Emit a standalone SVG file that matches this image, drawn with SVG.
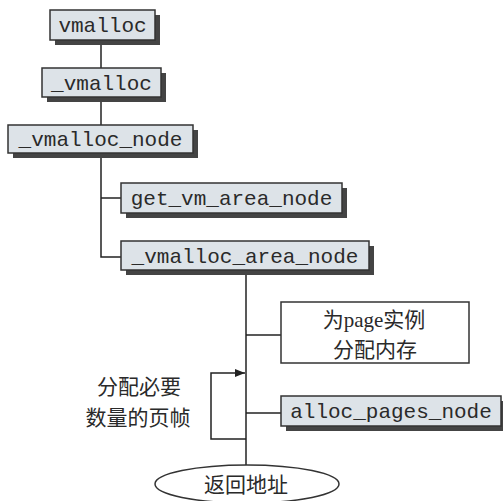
<svg xmlns="http://www.w3.org/2000/svg" width="503" height="501" viewBox="0 0 503 501">
<defs>
<style>
.box{fill:#dde3e8;stroke:#333;stroke-width:1.5}
.sh{fill:#444}
.plain{fill:#fff;stroke:#333;stroke-width:1.5}
.mono{font-family:"Liberation Mono",monospace;font-size:21px;fill:#2a2a2a;text-anchor:middle}
.cjk{font-family:"Liberation Serif","Noto Sans CJK SC",serif;font-size:21px;fill:#2a2a2a;text-anchor:middle}
.ln{fill:none;stroke:#222;stroke-width:1.5}
</style>
<marker id="arr" markerWidth="10" markerHeight="8" refX="10" refY="4" orient="auto" markerUnits="userSpaceOnUse">
<path d="M0,0 L10,4 L0,8 Z" fill="#222"/>
</marker>
</defs>
<g id="connectors">
<line class="ln" x1="101" y1="40" x2="101" y2="68"/>
<line class="ln" x1="101" y1="97" x2="101" y2="125"/>
<polyline class="ln" points="101,153 101,257 121,257"/>
<line class="ln" x1="101" y1="198" x2="121" y2="198"/>
<line class="ln" x1="246" y1="270" x2="246" y2="465"/>
<line class="ln" x1="246" y1="335" x2="281" y2="335"/>
<line class="ln" x1="246" y1="413" x2="281" y2="413"/>
<polyline class="ln" points="246,439 211,439 211,373 245,373" marker-end="url(#arr)"/>
</g>
<g id="vmalloc">
<rect class="sh" x="55" y="15" width="105" height="30"/>
<rect class="box" x="50" y="10" width="105" height="30"/>
<text class="mono" x="102.5" y="32">vmalloc</text>
</g>
<g id="_vmalloc">
<rect class="sh" x="47" y="73" width="119" height="29"/>
<rect class="box" x="42" y="68" width="119" height="29"/>
<text class="mono" x="101.5" y="90">_vmalloc</text>
</g>
<g id="_vmalloc_node">
<rect class="sh" x="13" y="130" width="185" height="28"/>
<rect class="box" x="8" y="125" width="185" height="28"/>
<text class="mono" x="100.5" y="146">_vmalloc_node</text>
</g>
<g id="get_vm_area_node">
<rect class="sh" x="126" y="188" width="221" height="30"/>
<rect class="box" x="121" y="183" width="221" height="30"/>
<text class="mono" x="231.5" y="205">get_vm_area_node</text>
</g>
<g id="_vmalloc_area_node">
<rect class="sh" x="126" y="246" width="248" height="29"/>
<rect class="box" x="121" y="241" width="248" height="29"/>
<text class="mono" x="245" y="263">_vmalloc_area_node</text>
</g>
<g id="page_mem">
<rect class="plain" x="281" y="302" width="188" height="61"/>
<text class="cjk" x="374" y="327">为page实例</text>
<text class="cjk" x="375" y="357">分配内存</text>
</g>
<g id="alloc_pages_node">
<rect class="sh" x="286" y="401" width="220" height="30"/>
<rect class="box" x="281" y="396" width="220" height="30"/>
<text class="mono" x="391" y="418">alloc_pages_node</text>
</g>
<g id="loop_label">
<text class="cjk" x="139" y="394">分配必要</text>
<text class="cjk" x="138" y="425">数量的页帧</text>
</g>
<g id="return_addr">
<ellipse class="plain" cx="247" cy="484" rx="92" ry="19"/>
<text class="cjk" x="246" y="492">返回地址</text>
</g>
</svg>
